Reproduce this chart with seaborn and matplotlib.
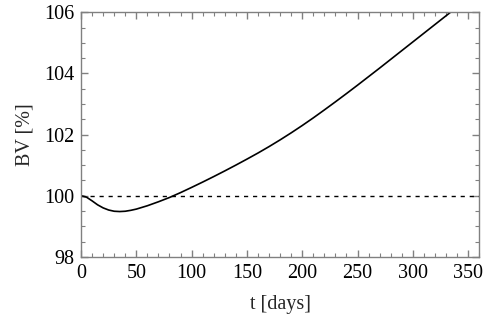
import numpy as np
import pandas as pd
import matplotlib
matplotlib.use("Agg")
import matplotlib.pyplot as plt
import seaborn as sns
from matplotlib.ticker import MultipleLocator

# values
t_days = [0, 5, 10, 15, 20, 25, 30, 35, 40, 45, 50, 60, 70, 80, 90, 100,
          110, 120, 130, 140, 150, 160, 170, 180, 190, 200, 210, 220, 230,
          240, 250, 260, 270, 280, 290, 300, 310, 320, 330, 340]
bv_pct = [100.00, 99.95, 99.83, 99.70, 99.60, 99.53, 99.49, 99.48, 99.49,
          99.52, 99.56, 99.67, 99.80, 99.94, 100.10, 100.27, 100.445, 100.625,
          100.81, 101.00, 101.195, 101.395, 101.605, 101.825, 102.055, 102.295,
          102.545, 102.805, 103.07, 103.34, 103.615, 103.895, 104.175, 104.46,
          104.745, 105.03, 105.315, 105.60, 105.885, 106.17]
baseline = 100

df = pd.DataFrame({"t": t_days, "BV": bv_pct})

sns.set_style("ticks")
plt.rcParams["font.family"] = ["Liberation Serif", "DejaVu Serif"]

fig = plt.figure(figsize=(4.88, 3.23), dpi=100)
ax = fig.add_axes([0.166, 0.205, 0.816, 0.757])

ax.axhline(baseline, color="black", lw=1, ls=(0, (3, 3.5)))
sns.lineplot(data=df, x="t", y="BV", ax=ax, color="black", lw=1.2)

ax.set_xlim(0, 360)
ax.set_ylim(98, 106)
ax.xaxis.set_major_locator(MultipleLocator(50))
ax.xaxis.set_minor_locator(MultipleLocator(10))
ax.yaxis.set_major_locator(MultipleLocator(2))
ax.yaxis.set_minor_locator(MultipleLocator(0.5))

for s in ax.spines.values():
    s.set_color("#808080")
    s.set_linewidth(1)
ax.tick_params(which="both", direction="in", top=True, right=True,
               color="#808080", labelsize=14.5, labelcolor="black")
ax.tick_params(which="major", length=5, width=1, pad=5)
ax.tick_params(which="minor", length=3, width=0.8)

ax.set_xlabel("t [days]", fontsize=14.5, labelpad=9)
ax.set_ylabel("BV [%]", fontsize=14.5, labelpad=7)

fig.savefig("out.png", dpi=100)
